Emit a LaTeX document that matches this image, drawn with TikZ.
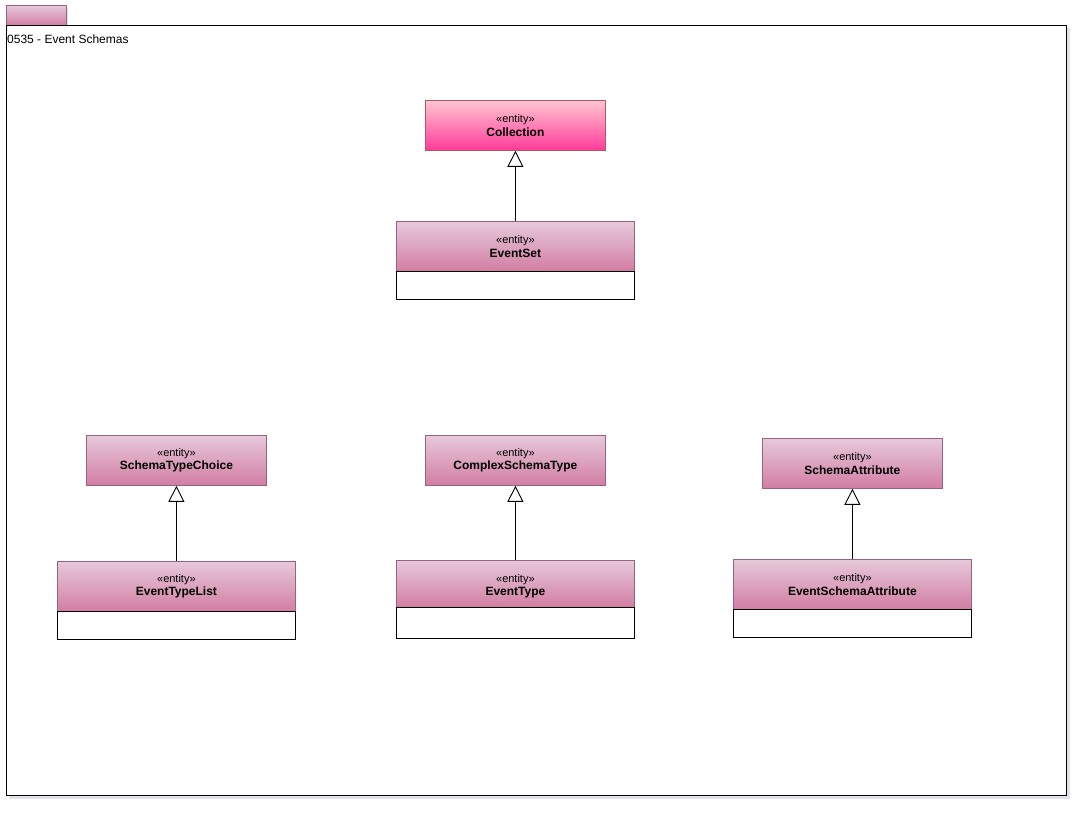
\documentclass[tikz,border=0pt]{standalone}
\usepackage{fontspec}
\setmainfont{Liberation Sans}
\usetikzlibrary{arrows.meta}
\definecolor{hdtop}{HTML}{E6C9DA}
\definecolor{hdbot}{HTML}{D27DA3}
\definecolor{hdline}{HTML}{9A6186}
\definecolor{coltop}{HTML}{FFC6D0}
\definecolor{colbot}{HTML}{FF3A9A}
\definecolor{colline}{HTML}{B85460}
\definecolor{shadow}{HTML}{C8C8D4}
\tikzset{
  hdr/.style={draw=hdline, top color=hdtop, bottom color=hdbot, anchor=north west,
    minimum width=#1, inner sep=0pt, align=center, line width=0.8pt},
  colhdr/.style={draw=colline, top color=coltop, bottom color=colbot, anchor=north west,
    minimum width=180pt, minimum height=50pt, inner sep=0pt, align=center, line width=0.8pt},
  bodybox/.style={draw=black, fill=white, anchor=north west, minimum width=238pt, inner sep=0pt, line width=0.9pt},
  gen/.style={-{Triangle[open, length=16pt, width=16pt]}, line width=0.9pt},
}
\newcommand{\ent}[1]{{\fontsize{11}{13}\selectfont «entity»}\\[1.5pt]{\fontsize{12}{14}\selectfont\bfseries #1}}
\begin{document}
\begin{tikzpicture}[x=1pt,y=-1pt]
\useasboundingbox (0,0) rectangle (1082,812);
\fill[white] (0,0) rectangle (1082,812);
% shadows
\fill[shadow!55] (9,28) rectangle (1070,799);
\fill[shadow!55] (9,8) rectangle (68,27);
% tab
\node[hdr=60pt, minimum height=20pt] (tab) at (6,5) {};
% frame
\draw[fill=white, line width=0.9pt] (6,25) rectangle (1066,795);
\node[anchor=north west, inner sep=0pt, font=\fontsize{12}{14}\selectfont] (title) at (7,34.5) {0535 - Event Schemas};
% Collection
\node[colhdr] (coll) at (425,100) {\ent{Collection}};
% EventSet
\node[hdr=238pt, minimum height=50pt] (es) at (396,221) {\ent{EventSet}};
\node[bodybox, minimum height=28pt] (esb) at (396,271) {};
% SchemaTypeChoice
\node[hdr=180pt, minimum height=50pt] (stc) at (86,435) {\ent{SchemaTypeChoice}};
% EventTypeList
\node[hdr=238pt, minimum height=50pt] (etl) at (57,561) {\ent{EventTypeList}};
\node[bodybox, minimum height=28pt] (etlb) at (57,611) {};
% ComplexSchemaType
\node[hdr=180pt, minimum height=50pt] (cst) at (425,435) {\ent{ComplexSchemaType}};
% EventType
\node[hdr=238pt, minimum height=47pt] (et) at (396,560) {};
\node[inner sep=0pt, align=center] (etlabel) at ([yshift=-2.5pt]et.center) {\ent{EventType}};
\node[bodybox, minimum height=31pt] (etb) at (396,607) {};
% SchemaAttribute
\node[hdr=180pt, minimum height=50pt] (sa) at (762,438) {\ent{SchemaAttribute}};
% EventSchemaAttribute
\node[hdr=238pt, minimum height=50pt] (esa) at (733,559) {\ent{EventSchemaAttribute}};
\node[bodybox, minimum height=28pt] (esab) at (733,609) {};
% generalizations
\draw[gen] (es.north) -- (coll.south);
\draw[gen] (etl.north) -- (stc.south);
\draw[gen] (et.north) -- (cst.south);
\draw[gen] (esa.north) -- (sa.south);
\end{tikzpicture}
\end{document}
